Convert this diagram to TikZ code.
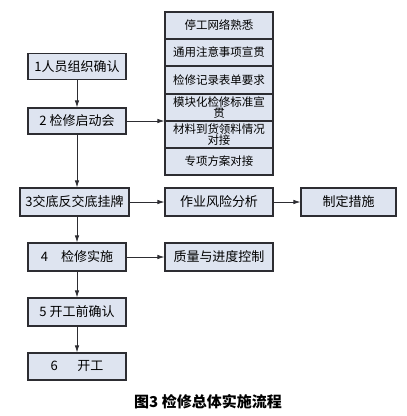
\documentclass[tikz,border=0pt]{standalone}
\definecolor{boxfill}{RGB}{222,228,240}
\definecolor{boxline}{RGB}{45,45,50}
\usepackage{fontspec}
\setmainfont{Noto Sans CJK SC}
\usepackage{tikz}
\usetikzlibrary{arrows.meta,positioning,calc}

\begin{document}
\begin{tikzpicture}[x=1pt, y=-1pt,
    flowbox/.style={draw=boxline, line width=1.1pt, fill=boxfill, inner sep=0pt,
          minimum width=98pt, minimum height=26pt, font=\fontsize{13}{14}\selectfont},
    listbox/.style={flowbox, minimum width=108pt, minimum height=27pt,
          align=center, font=\fontsize{11.5}{12}\selectfont},
    flowarrow/.style={draw=boxline, line width=0.8pt, -{Latex[length=7pt,width=4.5pt]}}]
    \useasboundingbox (0,0) rectangle (407,416);
    % main steps
    \node[flowbox] (stepone) at (77,66.5) {1人员组织确认};
    \node[flowbox] (steptwo) at (77,121) {2 检修启动会};
    \node[flowbox, minimum width=109pt, minimum height=28pt] (stepthree) at (74.5,202) {3交底反交底挂牌};
    \node[flowbox, minimum height=28pt] (stepfour) at (77,257) {4\hspace{1em}检修实施};
    \node[flowbox, minimum height=28pt] (stepfive) at (77,312) {5 开工前确认};
    \node[flowbox, minimum height=27pt] (stepsix) at (77,366.5) {6\hspace{1.5em}开工};
    % meeting items
    \node[listbox] (itemone) at (219,25.5) {停工网络熟悉};
    \node[listbox] (itemtwo) at (219,52.5) {通用注意事项宣贯};
    \node[listbox] (itemthree) at (219,80) {检修记录表单要求};
    \node[listbox, font=\fontsize{11.5}{11}\selectfont] (itemfour) at (219,107.5) {\raisebox{3pt}{\parbox{108pt}{\centering 模块化检修标准宣\\贯}}};
    \node[listbox, font=\fontsize{11.5}{11}\selectfont] (itemfive) at (219,134.5) {\parbox{108pt}{\centering 材料到货领料情况\\对接}};
    \node[listbox] (itemsix) at (219,161.5) {专项方案对接};
    % side boxes
    \node[flowbox, minimum width=108pt, minimum height=28pt] (risk) at (219,202) {作业风险分析};
    \node[flowbox, minimum width=95pt, minimum height=28pt] (measure) at (348.5,202) {制定措施};
    \node[flowbox, minimum width=108pt, minimum height=28pt] (quality) at (219,257) {质量与进度控制};
    % arrows
    \draw[flowarrow] (stepone) -- (steptwo);
    \draw[flowarrow] (steptwo) -- (steptwo |- stepthree.north);
    \draw[flowarrow] (stepfour |- stepthree.south) -- (stepfour);
    \draw[flowarrow] (stepfour) -- (stepfive);
    \draw[flowarrow] (stepfive) -- (stepsix);
    \draw[flowarrow] (steptwo.east) -- (steptwo.east -| itemfive.west);
    \draw[flowarrow] (stepthree) -- (risk);
    \draw[flowarrow] (risk) -- (measure);
    \draw[flowarrow] (stepfour) -- (quality);
    % caption
    \node[font=\fontsize{15}{16}\selectfont\bfseries] (caption) at (208,402) {图3 检修总体实施流程};
\end{tikzpicture}
\end{document}
